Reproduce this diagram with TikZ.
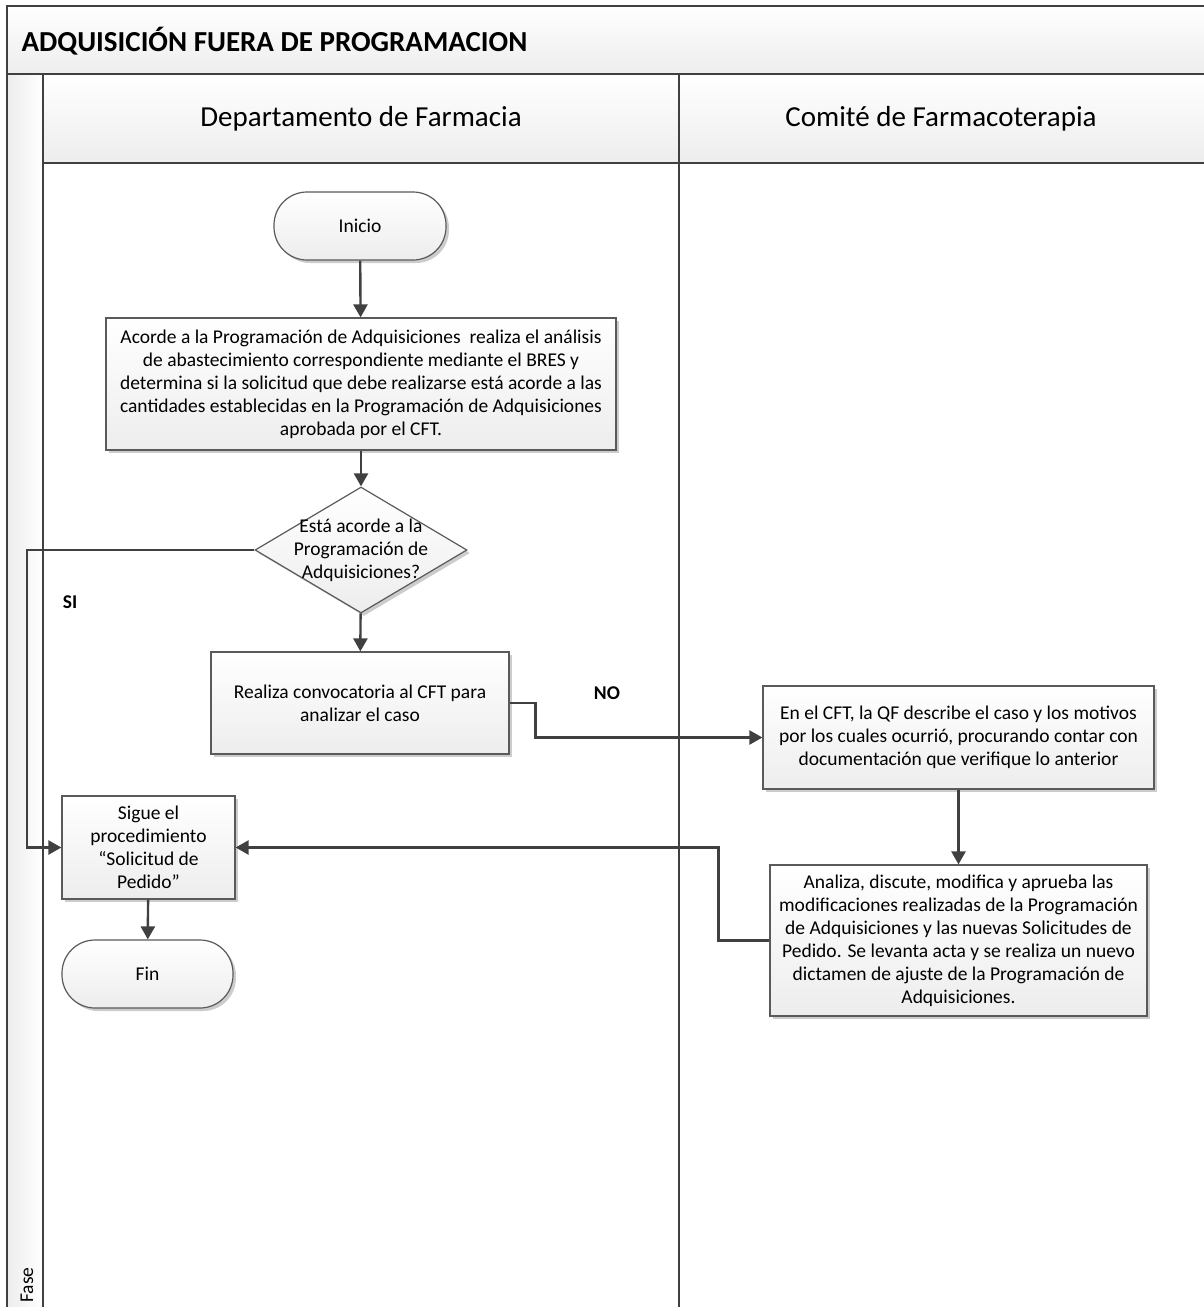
\documentclass[tikz,border=0pt]{standalone}
\usepackage{fontspec}
\setmainfont{Carlito}
\usetikzlibrary{arrows.meta,shadows,shapes.geometric}

\definecolor{edge}{HTML}{404040}
\definecolor{boxline}{HTML}{5A5A5A}
\definecolor{bandlo}{HTML}{EDEDED}

\tikzset{
  bodyfont/.style={font=\fontsize{19.5}{23}\selectfont},
  boxshade/.style={top color=white, bottom color=bandlo, draw=boxline, line width=1.2pt,
    drop shadow={shadow xshift=3pt, shadow yshift=-3pt, fill=black!20, opacity=1}},
  procbox/.style={boxshade, rectangle, inner sep=0pt, align=center, bodyfont},
  termbox/.style={boxshade, rectangle, rounded corners=33pt, inner sep=0pt, align=center, bodyfont},
  decbox/.style={boxshade, diamond, inner sep=0pt},
  flow/.style={draw=edge, line width=2.4pt, -{Triangle[length=13pt,width=14pt]}},
  frameline/.style={draw=edge, line width=2.2pt},
  lanehead/.style={font=\fontsize{29}{34}\selectfont, anchor=center},
  lbl/.style={font=\fontsize{19.5}{23}\selectfont\bfseries},
}

\begin{document}
\begin{tikzpicture}[x=1pt,y=-1pt]
\useasboundingbox (0,0) rectangle (1204,1307);
\begin{scope}
\clip (0,0) rectangle (1204,1307);

% pool: title band, phase column, lane headers
\shade[top color=white, bottom color=bandlo] (7,6) rectangle (1210,74);
\shade[left color=bandlo, right color=white] (7,74) rectangle (43,1320);
\shade[top color=white, bottom color=bandlo] (43,74) rectangle (1210,163);
\draw[frameline] (7,1320) -- (7,6) -- (1210,6);
\draw[frameline] (7,74) -- (1210,74);
\draw[frameline] (43,74) -- (43,1320);
\draw[frameline] (43,163) -- (1210,163);
\draw[frameline] (679,74) -- (679,1320);

\node[anchor=west, font=\fontsize{29}{34}\selectfont\bfseries] (title) at (18,41) {ADQUISICIÓN FUERA DE PROGRAMACION};
\node[lanehead] (lane1) at (361,119) {Departamento de Farmacia};
\node[lanehead] (lane2) at (941,119) {Comité de Farmacoterapia};
\node[rotate=90, anchor=west, bodyfont] (fase) at (27,1306) {Fase};
\end{scope}

% flow steps
\node[termbox, minimum width=172pt, minimum height=68pt] (inicio) at (360,226) {Inicio};

\node[procbox, minimum width=510pt, minimum height=132pt] (acorde) at (361,384)
  {Acorde a la Programación de Adquisiciones\ \ realiza el análisis\\
   de abastecimiento correspondiente mediante el BRES y\\
   determina si la solicitud que debe realizarse está acorde a las\\
   cantidades establecidas en la Programación de Adquisiciones\\
   aprobada por el CFT.};

\node[decbox, minimum width=212pt, minimum height=126pt] (decide) at (361,550) {};
\node[align=center, bodyfont] (decidetext) at (decide) {Está acorde a la\\Programación de\\Adquisiciones?};

\node[procbox, minimum width=298pt, minimum height=102pt] (convoca) at (360,703)
  {Realiza convocatoria al CFT para\\analizar el caso};

\node[procbox, minimum width=391pt, minimum height=103pt] (cft) at (958.5,737.5)
  {En el CFT, la QF describe el caso y los motivos\\
   por los cuales ocurrió, procurando contar con\\
   documentación que verifique lo anterior};

\node[procbox, minimum width=377pt, minimum height=151pt] (analiza) at (958.5,940.5)
  {Analiza, discute, modifica y aprueba las\\
   modificaciones realizadas de la Programación\\
   de Adquisiciones y las nuevas Solicitudes de\\
   Pedido. Se levanta acta y se realiza un nuevo\\
   dictamen de ajuste de la Programación de\\
   Adquisiciones.};

\node[procbox, minimum width=173pt, minimum height=103pt] (sigue) at (148.5,847.5)
  {Sigue el\\procedimiento\\“Solicitud de\\Pedido”};

\node[termbox, minimum width=171pt, minimum height=68pt] (fin) at (147.5,974) {Fin};

% branch labels
\node[lbl] (si) at (70,602) {SI};
\node[lbl] (no) at (607,693) {NO};

% connectors
\coordinate (siturn) at (27,550);
\draw[flow] (inicio) -- (acorde);
\draw[flow] (acorde) -- (decide);
\draw[flow] (decide) -- (convoca);
\draw[flow] (decide.west) -- (siturn) |- (sigue.west);
\draw[flow] (convoca.east) -- ++(26,0) |- (cft.west);
\draw[flow] (cft) -- (analiza);
\draw[flow] (analiza.west) -- ++(-51,0) |- (sigue.east);
\draw[flow] (sigue) -- (fin);
\end{tikzpicture}
\end{document}
